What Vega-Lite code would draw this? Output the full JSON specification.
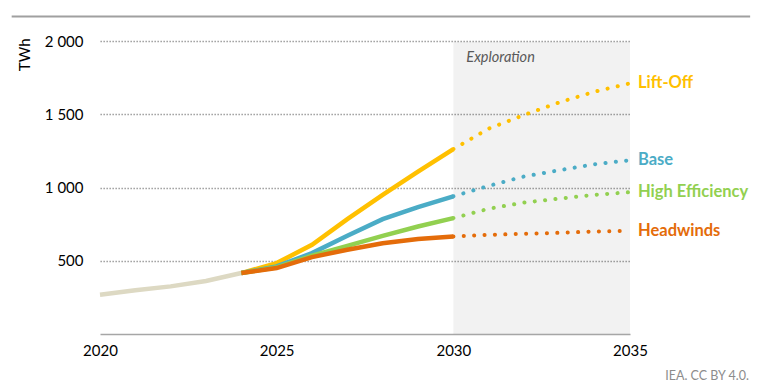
{
  "$schema": "https://vega.github.io/schema/vega-lite/v6.json",
  "width": 530,
  "height": 293,
  "autosize": "none",
  "padding": {"left": 100, "top": 41, "right": 143, "bottom": 55},
  "background": "white",
  "config": {
    "view": {"stroke": null},
    "font": "Lato",
    "axis": {"labelFont": "Lato", "titleFont": "Lato"}
  },
  "datasets": {
    "notes": [
      {"note": "Exploration", "kind": "region"},
      {"note": "IEA. CC BY 4.0.", "kind": "credit"},
      {"note": "", "kind": "topline"}
    ],
    "lines": [
      {"year": 2020, "value": 268, "series": "Historical", "seg": "hist"},
      {"year": 2021, "value": 298, "series": "Historical", "seg": "hist"},
      {"year": 2022, "value": 325, "series": "Historical", "seg": "hist"},
      {"year": 2023, "value": 362, "series": "Historical", "seg": "hist"},
      {"year": 2024, "value": 416, "series": "Historical", "seg": "hist"},

      {"year": 2024, "value": 416, "series": "Lift-Off", "seg": "proj"},
      {"year": 2025, "value": 484, "series": "Lift-Off", "seg": "proj"},
      {"year": 2026, "value": 609, "series": "Lift-Off", "seg": "proj"},
      {"year": 2027, "value": 784, "series": "Lift-Off", "seg": "proj"},
      {"year": 2028, "value": 950, "series": "Lift-Off", "seg": "proj"},
      {"year": 2029, "value": 1108, "series": "Lift-Off", "seg": "proj"},
      {"year": 2030, "value": 1262, "series": "Lift-Off", "seg": "proj"},
      {"year": 2030, "value": 1262, "series": "Lift-Off", "seg": "expl"},
      {"year": 2031, "value": 1402, "series": "Lift-Off", "seg": "expl"},
      {"year": 2032, "value": 1495, "series": "Lift-Off", "seg": "expl"},
      {"year": 2033, "value": 1581, "series": "Lift-Off", "seg": "expl"},
      {"year": 2034, "value": 1654, "series": "Lift-Off", "seg": "expl"},
      {"year": 2035, "value": 1711, "series": "Lift-Off", "seg": "expl"},

      {"year": 2024, "value": 416, "series": "Base", "seg": "proj"},
      {"year": 2025, "value": 461, "series": "Base", "seg": "proj"},
      {"year": 2026, "value": 552, "series": "Base", "seg": "proj"},
      {"year": 2027, "value": 670, "series": "Base", "seg": "proj"},
      {"year": 2028, "value": 784, "series": "Base", "seg": "proj"},
      {"year": 2029, "value": 866, "series": "Base", "seg": "proj"},
      {"year": 2030, "value": 940, "series": "Base", "seg": "proj"},
      {"year": 2030, "value": 940, "series": "Base", "seg": "expl"},
      {"year": 2031, "value": 1011, "series": "Base", "seg": "expl"},
      {"year": 2032, "value": 1075, "series": "Base", "seg": "expl"},
      {"year": 2033, "value": 1118, "series": "Base", "seg": "expl"},
      {"year": 2034, "value": 1159, "series": "Base", "seg": "expl"},
      {"year": 2035, "value": 1186, "series": "Base", "seg": "expl"},

      {"year": 2024, "value": 416, "series": "High Efficiency", "seg": "proj"},
      {"year": 2025, "value": 455, "series": "High Efficiency", "seg": "proj"},
      {"year": 2026, "value": 534, "series": "High Efficiency", "seg": "proj"},
      {"year": 2027, "value": 602, "series": "High Efficiency", "seg": "proj"},
      {"year": 2028, "value": 670, "series": "High Efficiency", "seg": "proj"},
      {"year": 2029, "value": 734, "series": "High Efficiency", "seg": "proj"},
      {"year": 2030, "value": 791, "series": "High Efficiency", "seg": "proj"},
      {"year": 2030, "value": 791, "series": "High Efficiency", "seg": "expl"},
      {"year": 2031, "value": 855, "series": "High Efficiency", "seg": "expl"},
      {"year": 2032, "value": 897, "series": "High Efficiency", "seg": "expl"},
      {"year": 2033, "value": 924, "series": "High Efficiency", "seg": "expl"},
      {"year": 2034, "value": 950, "series": "High Efficiency", "seg": "expl"},
      {"year": 2035, "value": 968, "series": "High Efficiency", "seg": "expl"},

      {"year": 2024, "value": 416, "series": "Headwinds", "seg": "proj"},
      {"year": 2025, "value": 450, "series": "Headwinds", "seg": "proj"},
      {"year": 2026, "value": 525, "series": "Headwinds", "seg": "proj"},
      {"year": 2027, "value": 575, "series": "Headwinds", "seg": "proj"},
      {"year": 2028, "value": 620, "series": "Headwinds", "seg": "proj"},
      {"year": 2029, "value": 648, "series": "Headwinds", "seg": "proj"},
      {"year": 2030, "value": 666, "series": "Headwinds", "seg": "proj"},
      {"year": 2030, "value": 666, "series": "Headwinds", "seg": "expl"},
      {"year": 2031, "value": 677, "series": "Headwinds", "seg": "expl"},
      {"year": 2032, "value": 684, "series": "Headwinds", "seg": "expl"},
      {"year": 2033, "value": 691, "series": "Headwinds", "seg": "expl"},
      {"year": 2034, "value": 700, "series": "Headwinds", "seg": "expl"},
      {"year": 2035, "value": 704, "series": "Headwinds", "seg": "expl"}
    ]
  },
  "layer": [
    {
      "data": {"name": "notes"},
      "transform": [{"filter": "datum.kind === 'region'"}],
      "mark": {"type": "rect", "color": "#000000", "opacity": 0.052},
      "encoding": {
        "x": {
          "datum": 2030,
          "type": "quantitative",
          "scale": {"domain": [2020, 2035], "nice": false, "zero": false},
          "axis": {
            "title": null,
            "values": [2020, 2025, 2030, 2035],
            "format": "d",
            "grid": false,
            "ticks": false,
            "domainColor": "#a6a6a6",
            "domainWidth": 1.5,
            "labelFontSize": 15,
            "labelColor": "#000000",
            "labelPadding": 9,
            "labelFlush": false
          }
        },
        "x2": {"datum": 2035},
        "y": {
          "datum": 0,
          "type": "quantitative",
          "scale": {"domain": [0, 2000], "nice": false},
          "axis": {
            "title": "TWh",
            "titleFontSize": 15,
            "titleFontWeight": "normal",
            "titleColor": "#000000",
            "titleAngle": -90,
            "titleAlign": "right",
            "titleBaseline": "middle",
            "titleX": -76,
            "titleY": -3,
            "values": [500, 1000, 1500, 2000],
            "labelExpr": "replace(format(datum.value, ','), ',', ' ')",
            "labelFontSize": 15,
            "labelColor": "#000000",
            "labelPadding": 17,
            "ticks": false,
            "domain": false,
            "grid": true,
            "gridColor": "#8f8f8f",
            "gridDash": [1.3, 1.7],
            "gridWidth": 1.3
          }
        },
        "y2": {"datum": 1995}
      }
    },
    {
      "data": {"name": "notes"},
      "transform": [{"filter": "datum.kind === 'region'"}],
      "mark": {"type": "text", "font": "Lato", "fontStyle": "italic", "fontSize": 14.5, "color": "#595959", "align": "left", "baseline": "middle", "dx": 13, "dy": 17},
      "encoding": {
        "x": {"datum": 2030, "type": "quantitative"},
        "y": {"datum": 2000, "type": "quantitative"},
        "text": {"field": "note"}
      }
    },
    {
      "data": {"name": "notes"},
      "transform": [{"filter": "datum.kind === 'topline'"}],
      "mark": {"type": "rule", "color": "#a0a0a0", "strokeWidth": 2, "clip": false},
      "encoding": {
        "x": {"datum": 2017.5, "type": "quantitative"},
        "x2": {"datum": 2038.4},
        "y": {"datum": 2167, "type": "quantitative"}
      }
    },
    {
      "data": {"name": "notes"},
      "transform": [{"filter": "datum.kind === 'credit'"}],
      "mark": {"type": "text", "font": "Lato", "fontSize": 12.5, "color": "#8c8c8c", "align": "right", "baseline": "middle", "dx": 119, "dy": 42},
      "encoding": {
        "x": {"datum": 2035, "type": "quantitative"},
        "y": {"datum": 0, "type": "quantitative"},
        "text": {"field": "note"}
      }
    },
    {
      "data": {"name": "lines"},
      "transform": [{"filter": "datum.seg === 'hist'"}],
      "mark": {"type": "line", "strokeWidth": 4.5, "color": "#ddd9c3"},
      "encoding": {
        "x": {"field": "year", "type": "quantitative"},
        "y": {"field": "value", "type": "quantitative"},
        "order": {"field": "year"}
      }
    },
    {
      "data": {"name": "lines"},
      "transform": [{"filter": "datum.seg === 'proj'"}],
      "mark": {"type": "line", "strokeWidth": 4.5},
      "encoding": {
        "x": {"field": "year", "type": "quantitative"},
        "y": {"field": "value", "type": "quantitative"},
        "color": {
          "field": "series",
          "type": "nominal",
          "scale": {"domain": ["Lift-Off", "Base", "High Efficiency", "Headwinds"], "range": ["#ffc000", "#4bacc6", "#92d050", "#e46c0a"]},
          "legend": null
        },
        "order": {"field": "year"}
      }
    },
    {
      "data": {"name": "lines"},
      "transform": [{"filter": "datum.seg === 'expl'"}],
      "mark": {"type": "line", "strokeWidth": 4, "strokeCap": "round", "strokeDash": [0.1, 10.3]},
      "encoding": {
        "x": {"field": "year", "type": "quantitative"},
        "y": {"field": "value", "type": "quantitative"},
        "color": {"field": "series", "type": "nominal", "legend": null},
        "order": {"field": "year"}
      }
    },
    {
      "data": {"name": "lines"},
      "transform": [{"filter": "datum.seg === 'expl' && datum.year === 2035"}],
      "mark": {"type": "text", "font": "Lato", "fontWeight": "bold", "fontSize": 16.5, "align": "left", "baseline": "middle", "dx": 8},
      "encoding": {
        "x": {"field": "year", "type": "quantitative"},
        "y": {"field": "value", "type": "quantitative"},
        "color": {"field": "series", "type": "nominal", "legend": null},
        "text": {"field": "series"}
      }
    }
  ]
}
